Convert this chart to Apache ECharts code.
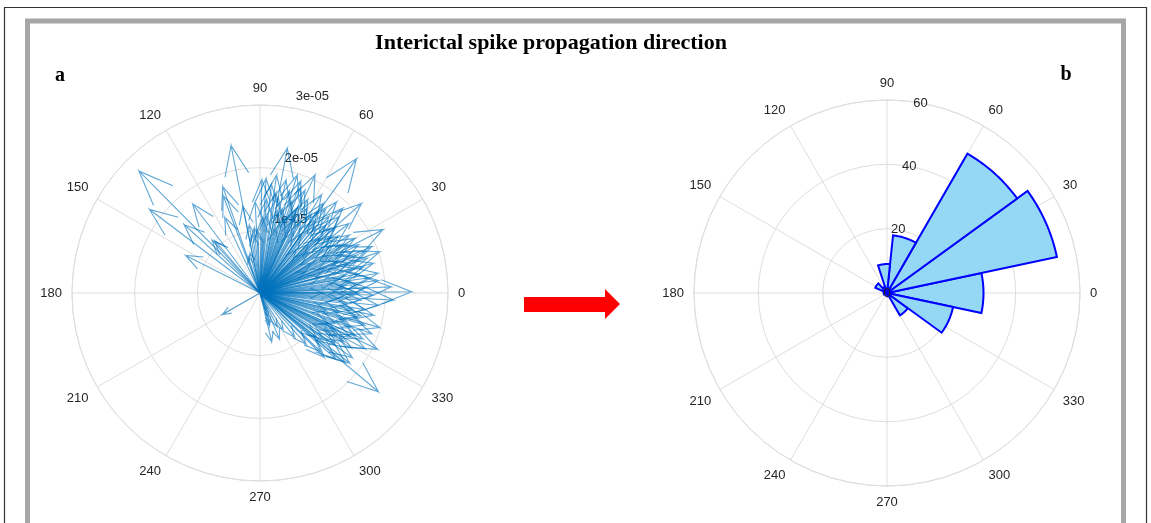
<!DOCTYPE html>
<html><head><meta charset="utf-8">
<script src="https://cdn.jsdelivr.net/npm/echarts@6/dist/echarts.min.js"></script>
<style>html,body{margin:0;padding:0;background:#fff}#c{width:1151px;height:523px}</style>
</head><body><div id="c"></div>
<script>
const titleText = 'Interictal spike propagation direction';
const panelLabels = ['a', 'b'];
const angleTicks = [0, 30, 60, 90, 120, 150, 180, 210, 240, 270, 300, 330];
// compass (panel a): radius in units of 1e-05
const compassRadiusTicks = [1, 2, 3];
const compassRadiusLabels = ['1e-05', '2e-05', '3e-05'];
const arrowAngleDeg = [
  101.1, 134.8, 142.9, 127.1, 110.7, 115.0, 132.3, 153.2, 101.2, 97.0,
  89.1, 93.1, 107.9, 130.9, 79.3, 54.3, 65.0, 72.5, 87.0, 41.4,
  27.3, 0.5, 50.0, 54.8, 45.7, 66.4, 22.5, 14.7, 29.9, 9.5,
  2.7, 79.2, 19.0, 104.0, 357.0, 343.9, 334.4, 320.2, 322.0, 320.8,
  347.3, 330.9, 336.1, 283.5, 289.3, 209.7, 359.8, 42.7, 35.9, 21.5,
  53.0, 66.0, 138.0, 109.3, 325.3, 292.0, 286.0, 95.0, 99.0, 92.0,
  84, 81, 77, 74, 71, 69, 67, 63, 61, 86,
  78, 72, 65, 88, 76, 82, 70, 58, 57, 55,
  52, 50, 48, 46, 44, 43, 41, 39, 38, 36,
  34, 33, 31, 29, 28, 26, 25, 24, 22, 21,
  19, 18, 17, 15, 14, 12, 11, 10, 8, 7,
  6, 5, 4, 3, 1, 359, 358, 356, 354, 353,
  351, 350, 349, 347, 346, 343, 342, 340, 339, 338,
  336, 334, 333, 332, 330, 329, 327, 325, 324, 319,
  316, 312, 308, 302, 297, 293, 288, 35, 45, 55,
  30, 50, 20, 40, 62, 15, 25, 345, 355, 0,
  335, 322, 315, 60, 75, 85, 68
];
const arrowMagnitudeE5 = [
  2.40, 2.74, 2.21, 1.78, 1.66, 1.33, 1.14, 1.33, 1.41, 0.95,
  1.81, 1.46, 0.61, 1.10, 2.35, 2.64, 2.08, 1.97, 1.83, 2.16,
  2.21, 2.42, 1.90, 1.75, 1.89, 1.79, 1.93, 1.87, 1.75, 1.91,
  2.10, 1.56, 2.02, 0.66, 2.13, 1.99, 2.08, 2.46, 1.82, 1.75,
  1.65, 1.40, 1.66, 0.80, 0.40, 0.69, 1.57, 1.52, 1.44, 1.80,
  1.46, 1.51, 1.63, 1.80, 1.45, 0.30, 0.55, 1.05, 1.10, 1.00,
  1.75, 1.62, 1.85, 1.70, 1.55, 1.80, 1.45, 1.68, 1.55, 1.50,
  1.35, 1.25, 1.30, 1.20, 1.05, 1.90, 1.90, 1.85, 1.50, 1.60,
  1.70, 1.40, 1.65, 1.50, 1.75, 1.30, 1.60, 1.45, 1.80, 1.55,
  1.35, 1.70, 1.50, 1.60, 1.25, 1.75, 1.45, 1.60, 1.35, 1.65,
  1.50, 1.80, 1.30, 1.55, 1.70, 1.40, 1.60, 1.25, 1.75, 1.45,
  1.90, 1.55, 1.35, 1.70, 1.50, 1.80, 1.35, 1.60, 1.90, 1.40,
  1.70, 1.50, 1.85, 1.30, 1.60, 1.75, 1.45, 1.90, 1.55, 1.30,
  1.80, 1.60, 1.35, 1.90, 1.55, 1.70, 1.45, 1.80, 1.25, 1.60,
  1.35, 1.10, 0.90, 0.70, 0.60, 0.80, 0.50, 1.20, 1.10, 1.15,
  0.95, 0.90, 1.10, 1.00, 1.10, 1.00, 0.80, 1.10, 1.20, 1.00,
  1.20, 1.15, 1.45, 1.30, 1.40, 1.25, 1.35
];
// rose histogram (panel b)
const roseRadiusTicks = [0, 20, 40, 60];
const roseRadiusLabels = ['0', '20', '40', '60'];
const binWidthDeg = 24;
const binCenterDeg = [0, 24, 48, 72, 96, 120, 144, 168, 192, 216, 240, 264, 288, 312, 336];
const binCounts =    [30, 54, 50, 18, 9, 2, 4, 1, 1, 0, 0, 0, 1, 8, 21];

const norm = a => ((a % 360) + 360) % 360;
const gridColor = '#dedede';
const labelColor = '#262626';
const sansFont = 'Liberation Sans';

function angleAxisCfg(idx) {
  return {
    polarIndex: idx, type: 'value', min: 0, max: 360, interval: 30,
    startAngle: 0, clockwise: false,
    axisLine: { show: true, lineStyle: { color: gridColor, width: 1 } },
    axisTick: { show: false },
    splitLine: { show: true, lineStyle: { color: gridColor, width: 1 } },
    axisLabel: { show: true, margin: 10, color: labelColor, fontFamily: sansFont, fontSize: 13,
      formatter: v => angleTicks.includes(v) && v !== 360 ? String(v) : '' }
  };
}
function radiusAxisCfg(idx, max, interval) {
  return {
    polarIndex: idx, type: 'value', min: 0, max: max, interval: interval,
    axisLine: { show: false }, axisTick: { show: false }, axisLabel: { show: false },
    splitLine: { show: true, lineStyle: { color: gridColor, width: 1 } }
  };
}

function renderArrow(params, api) {
  const r = api.value(0), th = api.value(1);
  const hr = r * 0.80399, dh = 5.7106;
  const pts = [[0, th], [r, th], [hr, th + dh], [r, th], [hr, th - dh]]
    .map(p => api.coord([p[0], norm(p[1])]));
  return { type: 'polyline', shape: { points: pts },
    style: { stroke: '#0072BD', lineWidth: 1.1, fill: null, opacity: 0.62, lineJoin: 'miter' } };
}
function renderBin(params, api) {
  const v = api.value(0), c = api.value(1);
  if (!v) return null;
  const pts = [api.coord([0, c])];
  const h = binWidthDeg / 2;
  for (let a = c - h; a <= c + h + 1e-9; a += 1) pts.push(api.coord([v, norm(a)]));
  return { type: 'polygon', shape: { points: pts },
    style: { fill: '#94d8f5', stroke: '#0000ff', lineWidth: 2, lineJoin: 'miter' } };
}
function makeLabelRenderer(texts, align, vAlign, dx, dy) {
  return function (params, api) {
    const p = api.coord([api.value(0), api.value(1)]);
    return { type: 'text', x: p[0] + dx, y: p[1] + dy,
      style: { text: texts[params.dataIndex], align: align, verticalAlign: vAlign,
        fill: labelColor, font: '13px ' + sansFont } };
  };
}

const chart = echarts.init(document.getElementById('c'), null, { renderer: 'canvas' });
chart.setOption({
  animation: false,
  backgroundColor: '#ffffff',
  title: { text: titleText, left: 551, top: 32, textAlign: 'center', padding: 0,
    textStyle: { fontFamily: 'Liberation Serif', fontWeight: 'bold', fontSize: 22, color: '#000' } },
  polar: [
    { center: [260, 293], radius: 188 },
    { center: [887, 293], radius: 193 }
  ],
  angleAxis: [angleAxisCfg(0), angleAxisCfg(1)],
  radiusAxis: [radiusAxisCfg(0, 3, 1), radiusAxisCfg(1, 60, 20)],
  graphic: [
    { type: 'rect', silent: true, z: 100, shape: { x: 4.5, y: 7.5, width: 1142, height: 560 },
      style: { fill: null, stroke: '#333', lineWidth: 1.2 } },
    { type: 'rect', silent: true, z: 100, shape: { x: 27.5, y: 21, width: 1096, height: 560 },
      style: { fill: null, stroke: '#a6a6a6', lineWidth: 5 } },
    { type: 'text', x: 60, y: 76, z: 100, style: { text: panelLabels[0], align: 'center', verticalAlign: 'middle',
      font: 'bold 20px "Liberation Serif"', fill: '#000' } },
    { type: 'text', x: 1066, y: 75, z: 100, style: { text: panelLabels[1], align: 'center', verticalAlign: 'middle',
      font: 'bold 20px "Liberation Serif"', fill: '#000' } },
    { type: 'polygon', z: 100, shape: { points: [[524, 297], [605, 297], [605, 289], [620, 304], [605, 319], [605, 312], [524, 312]] },
      style: { fill: '#ff0000' } }
  ],
  series: [
    { type: 'custom', coordinateSystem: 'polar', polarIndex: 0, z: 1,
      renderItem: makeLabelRenderer(compassRadiusLabels, 'left', 'bottom', 3, -5),
      data: compassRadiusTicks.map(t => [t, 80]) },
    { type: 'custom', coordinateSystem: 'polar', polarIndex: 0, z: 2,
      renderItem: renderArrow,
      data: arrowAngleDeg.map((a, i) => [arrowMagnitudeE5[i], a]) },
    { type: 'custom', coordinateSystem: 'polar', polarIndex: 1, z: 2,
      renderItem: renderBin,
      data: binCenterDeg.map((c, i) => [binCounts[i], c]) },
    { type: 'custom', coordinateSystem: 'polar', polarIndex: 1, z: 3,
      renderItem: makeLabelRenderer(roseRadiusLabels, 'center', 'middle', 0, 0),
      data: roseRadiusTicks.map(t => [t, 80]) }
  ]
});
</script></body></html>
